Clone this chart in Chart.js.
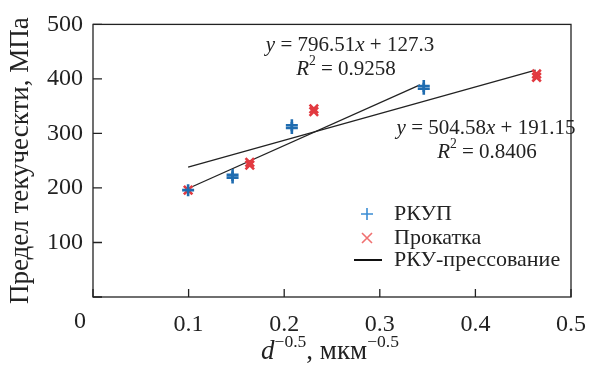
<!DOCTYPE html>
<html>
<head>
<meta charset="utf-8">
<script src="https://cdn.jsdelivr.net/npm/chart.js@4.4.0/dist/chart.umd.min.js"></script>
<style>
  html, body { margin: 0; padding: 0; background: #fff; }
  #wrap { width: 604px; height: 365px; }
</style>
</head>
<body>
<div id="wrap"><canvas id="yieldChart"></canvas></div>
<script>
// values
const rkupX = [0.0995, 0.146, 0.146, 0.208, 0.208, 0.346, 0.346];
const rkupY = [196, 219, 224, 310, 315, 382, 387];
const rollX = [0.0995, 0.164, 0.164, 0.231, 0.231, 0.464, 0.464];
const rollY = [196, 242, 247, 340, 345, 403, 409];

// trend line end points
const fit1X = [0.0995, 0.342];
const fit1Y = [199, 389];
const fit2X = [0.0995, 0.463];
const fit2Y = [238, 416];

const xTicks = [0, 0.1, 0.2, 0.3, 0.4, 0.5];
const yTicks = [0, 100, 200, 300, 400, 500];

const labels = ['РКУП', 'Прокатка', 'РКУ-прессование'];
const fit1Text = ['796.51', '127.3', '0.9258'];
const fit2Text = ['504.58', '191.15', '0.8406'];

const serif = '"Liberation Serif", "DejaVu Serif", serif';
const blue = '#1f6cb0';
const red = '#e23a40';

function pts(xs, ys) {
  return xs.map((x, i) => ({ x: x, y: ys[i] }));
}

// draw a row of text pieces with mixed styles, centred on cx
function drawPieces(ctx, pieces, cx, cy, size) {
  let total = 0;
  pieces.forEach(p => {
    ctx.font = (p.it ? 'italic ' : '') + (p.sup ? size * 0.65 : size) + 'px ' + serif;
    p.w = ctx.measureText(p.t).width;
    total += p.w;
  });
  let x = cx - total / 2;
  ctx.textBaseline = 'middle';
  ctx.textAlign = 'left';
  pieces.forEach(p => {
    ctx.font = (p.it ? 'italic ' : '') + (p.sup ? size * 0.65 : size) + 'px ' + serif;
    ctx.fillText(p.t, x, p.sup ? cy - size * 0.37 : cy);
    x += p.w;
  });
}

const decor = {
  id: 'decor',
  afterDraw(chart) {
    const ctx = chart.ctx;
    const a = chart.chartArea;
    const xs = chart.scales.x, ys = chart.scales.y;
    ctx.save();
    // frame
    ctx.strokeStyle = '#222';
    ctx.lineWidth = 1.3;
    ctx.strokeRect(a.left, a.top, a.right - a.left, a.bottom - a.top);
    // inward ticks
    ctx.beginPath();
    yTicks.forEach(v => {
      const y = ys.getPixelForValue(v);
      ctx.moveTo(a.left, y); ctx.lineTo(a.left + 9, y);
    });
    xTicks.forEach(v => {
      const x = xs.getPixelForValue(v);
      ctx.moveTo(x, a.bottom); ctx.lineTo(x, a.bottom - 8);
    });
    ctx.stroke();

    ctx.fillStyle = '#222';
    // shared zero label
    ctx.font = '24px ' + serif;
    ctx.textAlign = 'center';
    ctx.textBaseline = 'middle';
    ctx.fillText('0', xs.getPixelForValue(0) - 13, 322);

    // x title
    drawPieces(ctx, [
      { t: 'd', it: true }, { t: '\u22120.5', sup: true },
      { t: ', мкм' }, { t: '\u22120.5', sup: true }
    ], (a.left + a.right) / 2 - 2, 352, 27);

    // equations
    drawPieces(ctx, [
      { t: 'y', it: true }, { t: ' = ' + fit1Text[0] }, { t: 'x', it: true }, { t: ' + ' + fit1Text[1] }
    ], 350, 45, 21);
    drawPieces(ctx, [
      { t: 'R', it: true }, { t: '2', sup: true }, { t: ' = ' + fit1Text[2] }
    ], 346, 69, 21);
    drawPieces(ctx, [
      { t: 'y', it: true }, { t: ' = ' + fit2Text[0] }, { t: 'x', it: true }, { t: ' + ' + fit2Text[1] }
    ], 486, 128, 21);
    drawPieces(ctx, [
      { t: 'R', it: true }, { t: '2', sup: true }, { t: ' = ' + fit2Text[2] }
    ], 487, 152, 21);

    // legend
    const lx = 367, tx = 394;
    const rows = [214, 238, 260];
    ctx.lineWidth = 1.6;
    ctx.strokeStyle = '#3b8dd4';
    ctx.beginPath();
    ctx.moveTo(lx - 6, rows[0]); ctx.lineTo(lx + 6, rows[0]);
    ctx.moveTo(lx, rows[0] - 6); ctx.lineTo(lx, rows[0] + 6);
    ctx.stroke();
    ctx.strokeStyle = '#f07070';
    ctx.beginPath();
    ctx.moveTo(lx - 5, rows[1] - 5); ctx.lineTo(lx + 5, rows[1] + 5);
    ctx.moveTo(lx - 5, rows[1] + 5); ctx.lineTo(lx + 5, rows[1] - 5);
    ctx.stroke();
    ctx.strokeStyle = '#111';
    ctx.lineWidth = 2;
    ctx.beginPath();
    ctx.moveTo(354, rows[2]); ctx.lineTo(382, rows[2]);
    ctx.stroke();
    ctx.font = '22px ' + serif;
    ctx.textAlign = 'left';
    ctx.textBaseline = 'middle';
    labels.forEach((l, i) => ctx.fillText(l, tx, rows[i]));
    ctx.restore();
  }
};

const data = {
  datasets: [{
    label: labels[0],
    data: pts(rkupX, rkupY),
    pointStyle: 'cross',
    pointRadius: 6,
    borderColor: blue,
    backgroundColor: blue,
    pointBorderWidth: 2.6,
    showLine: false
  }, {
    label: labels[1],
    data: pts(rollX, rollY),
    pointStyle: 'crossRot',
    pointRadius: 6,
    borderColor: red,
    backgroundColor: red,
    pointBorderWidth: 2.6,
    showLine: false
  }, {
    label: labels[2],
    data: pts(fit1X, fit1Y),
    showLine: true,
    pointRadius: 0,
    borderColor: '#222',
    borderWidth: 1.3
  }, {
    label: labels[2] + ' 2',
    data: pts(fit2X, fit2Y),
    showLine: true,
    pointRadius: 0,
    borderColor: '#222',
    borderWidth: 1.3
  }]
};

const config = {
  type: 'scatter',
  data: data,
  options: {
    responsive: true,
    maintainAspectRatio: false,
    animation: false,
    layout: { padding: { top: 22, right: 33, left: 0, bottom: 0 } },
    plugins: {
      legend: { display: false },
      tooltip: { enabled: false }
    },
    scales: {
      x: {
        type: 'linear',
        min: 0,
        max: 0.5,
        afterBuildTicks: s => { s.ticks = xTicks.map(v => ({ value: v })); },
        afterFit: s => { s.height = 68; },
        grid: { display: false, drawTicks: false },
        border: { display: false },
        ticks: {
          padding: 13,
          color: '#222',
          font: { family: serif, size: 24 },
          callback: v => v === 0 ? '' : String(v)
        }
      },
      y: {
        type: 'linear',
        min: 0,
        max: 500,
        afterBuildTicks: s => { s.ticks = yTicks.map(v => ({ value: v })); },
        afterFit: s => { s.width = 93; },
        grid: { display: false, drawTicks: false },
        border: { display: false },
        title: {
          display: true,
          text: 'Предел текуческти, МПа',
          color: '#222',
          font: { family: serif, size: 27 },
          padding: { top: 5, bottom: 0 }
        },
        ticks: {
          padding: 10,
          color: '#222',
          font: { family: serif, size: 24 },
          callback: v => v === 0 ? '' : String(v)
        }
      }
    }
  },
  plugins: [decor]
};

const yieldChart = new Chart(document.getElementById('yieldChart'), config);
</script>
</body>
</html>
